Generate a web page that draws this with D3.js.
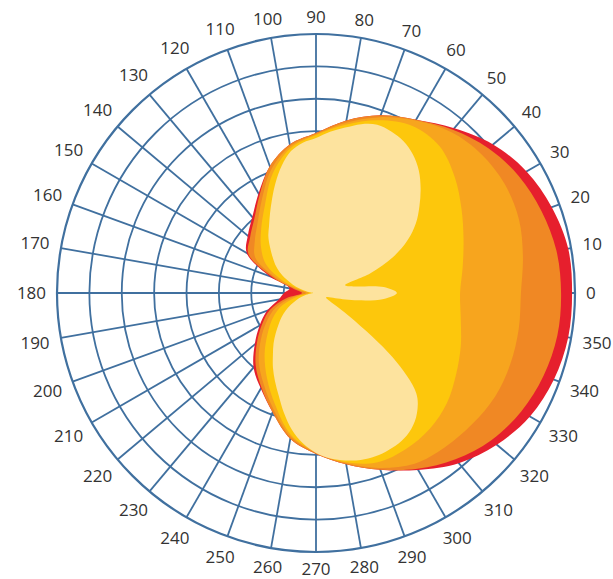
<!DOCTYPE html>
<html>
<head>
<meta charset="utf-8">
<script src="https://cdn.jsdelivr.net/npm/d3@7/dist/d3.min.js"></script>
<style>
  body { margin: 0; background: #fff; }
</style>
</head>
<body>
<div id="chart"></div>
<script>
// angle categories (degrees, counter-clockwise from east)
var angles = [0, 10, 20, 30, 40, 50, 60, 70, 80, 90, 100, 110, 120, 130, 140, 150, 160, 170,
              180, 190, 200, 210, 220, 230, 240, 250, 260, 270, 280, 290, 300, 310, 320, 330, 340, 350];
var angleLabels = ["0", "10", "20", "30", "40", "50", "60", "70", "80", "90", "100", "110", "120",
                   "130", "140", "150", "160", "170", "180", "190", "200", "210", "220", "230",
                   "240", "250", "260", "270", "280", "290", "300", "310", "320", "330", "340", "350"];
var ringLevels = [10, 20, 30, 40, 50, 60, 70, 80];

// contour levels, outermost first (values on a 0-80 radial scale)
var redLevel = [79.1, 79.1, 77.5, 75.1, 71.4, 66.4, 61.8, 58.4, 54.1, 49.4, 46.6, 41.7, 35.5, 30.6, 27.5, 24.7, 15.4, 8.3,
                9.9, 11.7, 16.1, 20.1, 24.7, 30.0, 34.1, 39.2, 45.7, 49.7, 53.7, 58.1, 63.1, 68.6, 72.9, 76.3, 78.2, 79.1];
var darkOrangeLevel = [75.7, 75.4, 74.1, 72.3, 69.5, 65.8, 61.8, 58.4, 54.1, 49.4, 46.6, 41.7, 34.9, 29.7, 26.6, 24.1, 14.2, 6.8,
                       4.3, 9.3, 15.1, 19.2, 23.8, 29.0, 33.7, 39.2, 45.7, 49.7, 53.7, 58.1, 62.7, 67.0, 70.7, 73.2, 74.8, 75.7];
var orangeLevel = [63.3, 64.9, 66.7, 67.3, 66.7, 64.9, 61.5, 57.8, 53.4, 49.1, 46.0, 40.5, 33.4, 28.1, 24.7, 21.6, 12.7, 5.6,
                   3.1, 7.4, 13.3, 17.6, 22.2, 27.5, 32.4, 38.3, 45.1, 49.4, 53.4, 57.5, 60.9, 62.1, 63.0, 63.9, 63.9, 63.6];
var yellowLevel = [44.5, 46.0, 48.5, 51.9, 55.9, 59.3, 59.6, 56.8, 52.8, 48.8, 45.4, 39.2, 31.5, 26.3, 22.2, 17.9, 10.8, 4.3,
                   2.2, 5.6, 11.1, 15.4, 19.5, 24.7, 30.3, 36.8, 44.5, 49.1, 53.1, 55.6, 55.6, 54.7, 52.8, 50.0, 47.6, 45.4];

// innermost level needs finer steps (5 degrees)
var paleAngles = [0, 5, 10, 15, 20, 25, 30, 35, 40, 45, 50, 55, 60, 65, 70, 75, 80, 85, 90, 95, 100, 105, 110, 115,
                  120, 125, 130, 135, 140, 145, 150, 155, 160, 165, 170, 175, 180, 185, 190, 195, 200, 205, 210, 215,
                  220, 225, 230, 235, 240, 245, 250, 255, 260, 265, 270, 275, 280, 285, 290, 295, 300, 305, 310, 315,
                  320, 325, 330, 335, 340, 345, 350, 355];
var paleLevel = [25.0, 21.0, 11.7, 9.3, 17.9, 26.3, 32.7, 37.7, 41.7, 45.7, 49.4, 52.2, 54.1, 55.0, 55.3, 54.0, 51.9, 50.0,
                 47.9, 46.6, 44.5, 40.8, 36.4, 32.1, 28.4, 25.3, 22.9, 20.1, 17.6, 15.4, 13.0, 10.2, 7.7, 5.3, 3.1, 1.5,
                 0.9, 1.5, 3.1, 4.6, 6.5, 8.6, 10.8, 13.0, 15.1, 17.6, 20.4, 23.2, 26.6, 30.0, 33.7, 38.3, 42.9, 46.6,
                 49.4, 51.3, 52.5, 53.4, 53.7, 53.4, 52.8, 51.3, 48.5, 43.8, 30.9, 13.0, 4.9, 3.4, 3.7, 6.2, 13.0, 21.0];

var width = 613;
var height = 579;
var cx = 316;
var cy = 293;
var outerR = 259;

var svg = d3.select("#chart")
    .append("svg")
    .attr("width", width)
    .attr("height", height);

var g = svg.append("g")
    .attr("transform", "translate(" + cx + "," + cy + ")");

var r = d3.scaleLinear().domain([0, 80]).range([0, outerR]);

function toRad(a) {
    // lineRadial measures clockwise from 12 o'clock
    return (90 - a) * Math.PI / 180;
}

// grid first, the fills cover it
var gridColor = "#40709f";

g.selectAll("line.spoke")
    .data(angles)
    .enter().append("line")
    .attr("class", "spoke")
    .attr("x1", 0).attr("y1", 0)
    .attr("x2", function (d) { return r(80) * Math.cos(d * Math.PI / 180); })
    .attr("y2", function (d) { return -r(80) * Math.sin(d * Math.PI / 180); })
    .style("stroke", gridColor)
    .style("stroke-width", 1.8);

g.selectAll("circle.ring")
    .data(ringLevels)
    .enter().append("circle")
    .attr("class", "ring")
    .attr("r", function (d) { return r(d); })
    .style("fill", "none")
    .style("stroke", gridColor)
    .style("stroke-width", function (d) { return d === 80 ? 2.2 : 1.8; });

// filled contours
var radial = d3.lineRadial()
    .angle(function (d) { return toRad(d.a); })
    .radius(function (d) { return r(d.v); })
    .curve(d3.curveCatmullRomClosed.alpha(0.5));

var layers = [
    { vals: redLevel, ang: angles, color: "#e61f2d" },
    { vals: darkOrangeLevel, ang: angles, color: "#f08824" },
    { vals: orangeLevel, ang: angles, color: "#f7a51e" },
    { vals: yellowLevel, ang: angles, color: "#fdc70c" },
    { vals: paleLevel, ang: paleAngles, color: "#fde39e" }
];

layers.forEach(function (L) {
    var pts = L.vals.map(function (v, i) { return { a: L.ang[i], v: v }; });
    g.append("path")
        .datum(pts)
        .attr("d", radial)
        .style("fill", L.color)
        .style("stroke", "none");
});

// angle labels round the outside
var fontSize = 17;
function labelOffset(d, i) {
    var t = d * Math.PI / 180;
    var w = angleLabels[i].length * fontSize * 0.57;
    return r(80) + 11 + Math.abs(Math.cos(t)) * w / 2 + Math.abs(Math.sin(t)) * 6;
}

g.selectAll("text.lbl")
    .data(angles)
    .enter().append("text")
    .attr("class", "lbl")
    .attr("x", function (d, i) { return labelOffset(d, i) * Math.cos(d * Math.PI / 180); })
    .attr("y", function (d, i) { return -labelOffset(d, i) * Math.sin(d * Math.PI / 180); })
    .attr("dy", ".35em")
    .attr("text-anchor", "middle")
    .style("font-family", "'Open Sans', sans-serif")
    .style("font-size", fontSize + "px")
    .style("fill", "#333")
    .text(function (d, i) { return angleLabels[i]; });
</script>
</body>
</html>
